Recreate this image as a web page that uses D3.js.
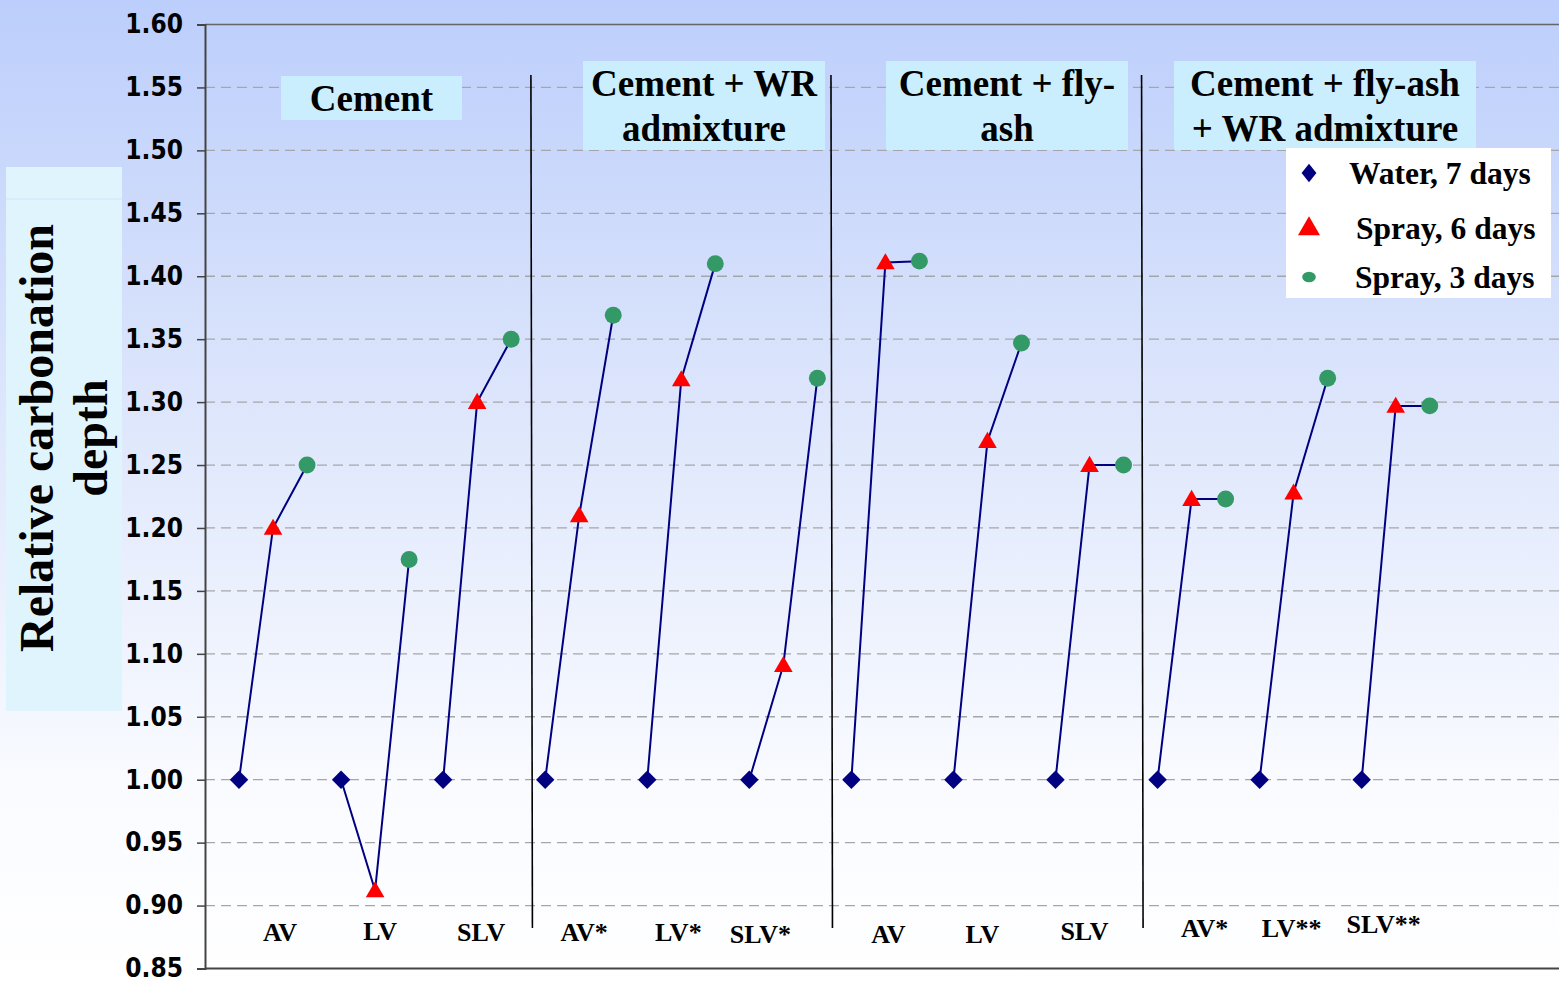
<!DOCTYPE html>
<html>
<head>
<meta charset="utf-8">
<script src="https://cdn.jsdelivr.net/npm/d3@7"></script>
<style>
  html, body { margin: 0; padding: 0; background: #ffffff; }
  svg { display: block; }
  .serif { font-family: "Liberation Serif", "Times New Roman", serif; font-weight: bold; }
  .tick-label { font-family: "DejaVu Sans Condensed", "DejaVu Sans", sans-serif; font-weight: bold; font-stretch: condensed; }
</style>
</head>
<body>
<svg id="chart" width="1559" height="982"></svg>
<script>
// Mix designs (x-axis categories), one triple of points per category
const categories = ["AV", "LV", "SLV", "AV*", "LV*", "SLV*", "AV", "LV", "SLV", "AV*", "LV**", "SLV**"];

// Relative carbonation depth per curing regime
const water7 = [1.00, 1.00, 1.00, 1.00, 1.00, 1.00, 1.00, 1.00, 1.00, 1.00, 1.00, 1.00];
const spray6 = [1.200, 0.912, 1.300, 1.210, 1.318, 1.091, 1.411, 1.269, 1.250, 1.223, 1.228, 1.297];
const spray3 = [1.250, 1.175, 1.350, 1.369, 1.410, 1.319, 1.412, 1.347, 1.250, 1.223, 1.319, 1.297];

const seriesNames = ["Water, 7 days", "Spray, 6 days", "Spray, 3 days"];

// Binder groups shown as headers above the plot
const groupTitles = [
  ["Cement"],
  ["Cement + WR", "admixture"],
  ["Cement + fly-", "ash"],
  ["Cement + fly-ash", "+ WR admixture"]
];

const yTicks = [0.85, 0.90, 0.95, 1.00, 1.05, 1.10, 1.15, 1.20, 1.25, 1.30, 1.35, 1.40, 1.45, 1.50, 1.55, 1.60];
const yTitle = ["Relative carbonation", "depth"];

// ---- layout ----
const W = 1559, H = 982;
const plot = { left: 205, right: 1559, top: 24.5, bottom: 968.5 };
const colors = { water: "#000080", spray6: "#ff0000", spray3: "#339966", line: "#000080" };
// small horizontal / vertical nudges for the category labels
const labelDx = [7, 5, 4, 5, -3, -23, 3, -5, -5, 13, -2, -12];
const labelDy = [1, 0, 1, 1, 1, 3, 3, 3, 0, -3, -3, -7];
// header boxes: [x, y, width, height]
const titleBoxes = [[281, 76, 181, 44], [583, 61, 242, 89], [886, 61, 242, 89], [1174, 61, 302, 89]];
// separators between binder groups (in category-slot units)
const separatorSlots = [8.58, 17.4, 26.53];

const svg = d3.select("#chart");

// background gradient
const defs = svg.append("defs");
const grad = defs.append("linearGradient").attr("id", "bg").attr("x1", 0).attr("y1", 0).attr("x2", 0).attr("y2", 1);
grad.append("stop").attr("offset", "0%").attr("stop-color", "#bccefb");
grad.append("stop").attr("offset", "45%").attr("stop-color", "#e0e8fc");
grad.append("stop").attr("offset", "80%").attr("stop-color", "#f9fbff");
grad.append("stop").attr("offset", "100%").attr("stop-color", "#ffffff");
svg.append("rect").attr("width", W).attr("height", H).attr("fill", "url(#bg)");

// scales: each category occupies three consecutive slots
const x = d3.scaleLinear().domain([-1, 38.8]).range([plot.left, plot.right]);
const y = d3.scaleLinear().domain([0.85, 1.60]).range([plot.bottom, plot.top]);

// dashed gridlines
svg.append("g").selectAll("line")
  .data(yTicks.filter(t => t > 0.85 && t < 1.60))
  .join("line")
  .attr("x1", plot.left).attr("x2", plot.right)
  .attr("y1", d => y(d)).attr("y2", d => y(d))
  .attr("stroke", "#a6a6a6").attr("stroke-width", 1.3)
  .attr("stroke-dasharray", "10,6");

// top border line
svg.append("line")
  .attr("x1", plot.left).attr("x2", plot.right)
  .attr("y1", y(1.60)).attr("y2", y(1.60))
  .attr("stroke", "#666666").attr("stroke-width", 1.5);

// y axis
const yAxis = d3.axisLeft(y).tickValues(yTicks).tickFormat(d3.format(".2f")).tickSize(8).tickPadding(14);
const gy = svg.append("g").attr("transform", `translate(${plot.left},0)`).call(yAxis);
gy.select(".domain").attr("stroke", "#444444").attr("stroke-width", 2);
gy.selectAll(".tick line").attr("stroke", "#444444").attr("stroke-width", 1.5);
gy.selectAll(".tick text").attr("class", "tick-label").attr("font-size", 26).attr("fill", "#000");

// bottom axis line
svg.append("line")
  .attr("x1", plot.left).attr("x2", plot.right)
  .attr("y1", y(0.85)).attr("y2", y(0.85))
  .attr("stroke", "#444444").attr("stroke-width", 2);

// group separators
svg.append("g").selectAll("line")
  .data(separatorSlots)
  .join("line")
  .attr("x1", d => x(d)).attr("x2", d => x(d) + 1.5)
  .attr("y1", 75).attr("y2", 928)
  .attr("stroke", "#000").attr("stroke-width", 1.6);

// y title box
svg.append("rect").attr("x", 6).attr("y", 167).attr("width", 116).attr("height", 544).attr("fill", "#e0f4fe");
svg.append("line").attr("x1", 6).attr("x2", 122).attr("y1", 199).attr("y2", 199).attr("stroke", "#cfe6f8").attr("stroke-width", 1);
const yt = svg.append("text").attr("class", "serif").attr("font-size", 48).attr("fill", "#000")
  .attr("text-anchor", "middle").attr("transform", "translate(53,438) rotate(-90)");
yTitle.forEach((line, i) => yt.append("tspan").attr("x", 0).attr("y", i * 54).text(line));

// header boxes
const hdr = svg.append("g");
groupTitles.forEach((lines, i) => {
  const [bx, by, bw, bh] = titleBoxes[i];
  hdr.append("rect").attr("x", bx).attr("y", by).attr("width", bw).attr("height", bh).attr("fill", "#caeefd");
  const t = hdr.append("text").attr("class", "serif").attr("font-size", 37).attr("fill", "#000").attr("text-anchor", "middle");
  const lineH = 45;
  const firstBase = by + bh / 2 - (lines.length - 1) * lineH / 2 + 13;
  lines.forEach((ln, j) => t.append("tspan").attr("x", bx + bw / 2).attr("y", firstBase + j * lineH).text(ln));
});

// connecting lines for each category
const triples = categories.map((c, i) => [water7[i], spray6[i], spray3[i]].map((v, s) => ({ slot: i * 3 + s, v })));
const line = d3.line().x(d => x(d.slot)).y(d => y(d.v));
svg.append("g").selectAll("path")
  .data(triples)
  .join("path")
  .attr("d", line)
  .attr("fill", "none")
  .attr("stroke", colors.line)
  .attr("stroke-width", 2);

// markers
const diamond = d3.symbol().type(d3.symbolSquare).size(170);
const triangle = d3.symbol().type(d3.symbolTriangle).size(150);
const circleSym = d3.symbol().type(d3.symbolCircle).size(225);

svg.append("g").selectAll("path")
  .data(water7.map((v, i) => ({ slot: i * 3, v })))
  .join("path")
  .attr("d", diamond)
  .attr("transform", d => `translate(${x(d.slot)},${y(d.v)}) rotate(45)`)
  .attr("fill", colors.water);

svg.append("g").selectAll("path")
  .data(spray6.map((v, i) => ({ slot: i * 3 + 1, v })))
  .join("path")
  .attr("d", triangle)
  .attr("transform", d => `translate(${x(d.slot)},${y(d.v) + 1.5})`)
  .attr("fill", colors.spray6);

svg.append("g").selectAll("path")
  .data(spray3.map((v, i) => ({ slot: i * 3 + 2, v })))
  .join("path")
  .attr("d", circleSym)
  .attr("transform", d => `translate(${x(d.slot)},${y(d.v)})`)
  .attr("fill", colors.spray3);

// category labels
svg.append("g").selectAll("text")
  .data(categories)
  .join("text")
  .attr("class", "serif")
  .attr("font-size", 26)
  .attr("text-anchor", "middle")
  .attr("x", (d, i) => x(i * 3 + 1) + labelDx[i])
  .attr("y", (d, i) => 940 + labelDy[i])
  .text(d => d);

// legend
const lg = svg.append("g");
lg.append("rect").attr("x", 1286).attr("y", 148).attr("width", 265).attr("height", 150).attr("fill", "#ffffff");
const legendRows = [
  { name: seriesNames[0], sym: d3.symbol().type(d3.symbolSquare).size(110), rot: 45, sx: 1.0, sy: 1.25, fill: colors.water, cy: 173, tx: 1349, ty: 184 },
  { name: seriesNames[1], sym: d3.symbol().type(d3.symbolTriangle).size(210), rot: 0, sx: 1, sy: 1, fill: colors.spray6, cy: 229, tx: 1356, ty: 239 },
  { name: seriesNames[2], sym: d3.symbol().type(d3.symbolCircle).size(120), rot: 0, sx: 1.1, sy: 0.85, fill: colors.spray3, cy: 277, tx: 1355, ty: 288 }
];
legendRows.forEach(r => {
  lg.append("path").attr("d", r.sym).attr("fill", r.fill)
    .attr("transform", `translate(1309,${r.cy}) scale(${r.sx},${r.sy}) rotate(${r.rot})`);
  lg.append("text").attr("class", "serif").attr("font-size", 31.5).attr("x", r.tx).attr("y", r.ty).text(r.name);
});
</script>
</body>
</html>
